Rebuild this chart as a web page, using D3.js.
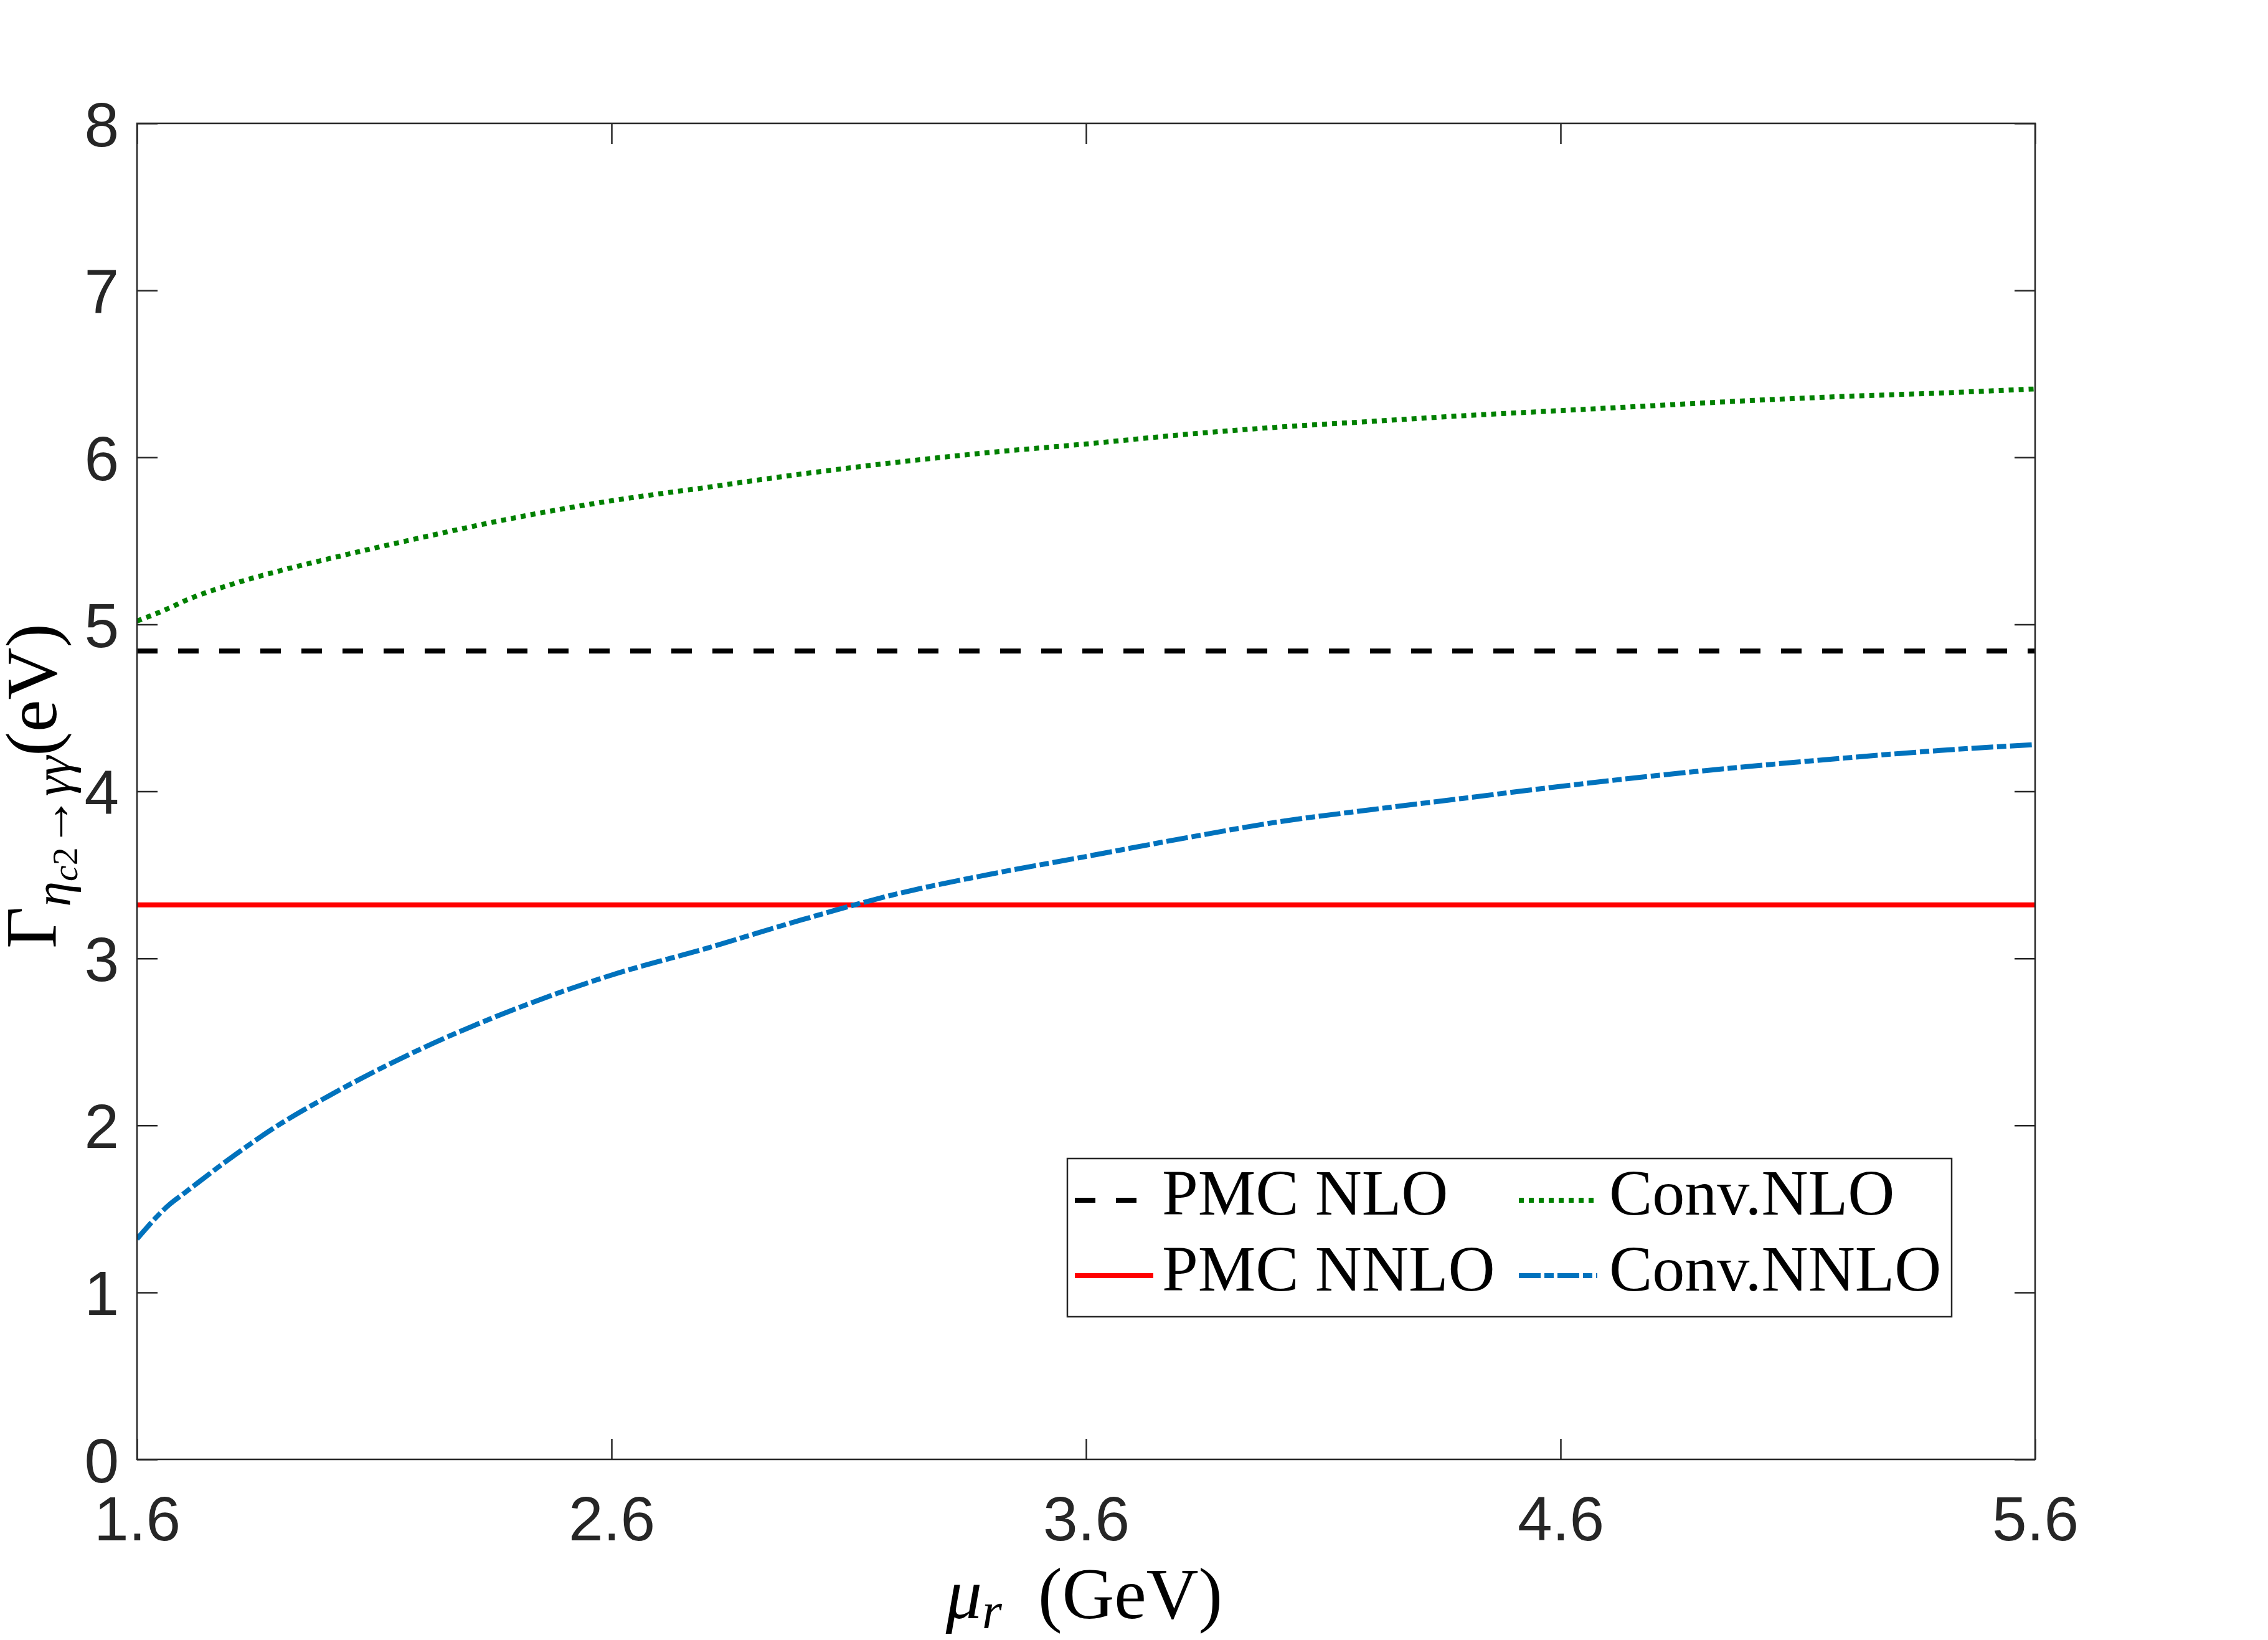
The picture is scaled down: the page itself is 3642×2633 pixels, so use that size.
<!DOCTYPE html>
<meta charset="utf-8">
<style>
  body { margin: 0; background: #fff; }
  .tick text { font-family: "Liberation Sans", Arial, sans-serif; fill: #262626; }
  .serif { font-family: "Liberation Serif", "Times New Roman", serif; fill: #000; }
</style>
<body>
<div id="chart"></div>
<script src="https://cdn.jsdelivr.net/npm/d3@7"></script>
<script>

// data
var mu = [1.6, 1.67, 1.7, 1.8, 1.9, 2.0, 2.2, 2.4, 2.6, 2.8, 3.0, 3.2, 3.4, 3.6, 3.8, 4.0, 4.2, 4.4, 4.6, 4.8, 5.0, 5.2, 5.4, 5.6];
var convNLO = [5.02, 5.10, 5.14, 5.24, 5.32, 5.39, 5.52, 5.64, 5.74, 5.82, 5.90, 5.97, 6.03, 6.08, 6.135, 6.18, 6.215, 6.25, 6.28, 6.31, 6.34, 6.365, 6.385, 6.41];
var convNNLO = [1.32, 1.53, 1.595, 1.81, 2.005, 2.17, 2.46, 2.70, 2.90, 3.06, 3.23, 3.385, 3.505, 3.61, 3.716, 3.815, 3.89, 3.96, 4.03, 4.094, 4.15, 4.20, 4.245, 4.28];
var muEnds = [1.6, 5.6];
var pmcNLO = [4.84, 4.84];
var pmcNNLO = [3.32, 3.32];
var xTicks = [1.6, 2.6, 3.6, 4.6, 5.6];
var yTicks = [0, 1, 2, 3, 4, 5, 6, 7, 8];

var W = 3642, H = 2633;
// plot box (note: "top" is a reserved window property, so use a prefix)
var pL = 220, pR = 3268, pT = 198, pB = 2343;

var svg = d3.select("#chart").append("svg")
    .attr("width", W)
    .attr("height", H)
    .style("background", "#fff");

var x = d3.scaleLinear().domain([1.6, 5.6]).range([pL, pR]);
var y = d3.scaleLinear().domain([0, 8]).range([pB, pT]);

svg.append("clipPath").attr("id", "plotclip")
  .append("rect")
    .attr("x", pL).attr("y", pT)
    .attr("width", pR - pL).attr("height", pB - pT);

// series
var series = [
  {name: "PMC NLO",   xs: muEnds, ys: pmcNLO,   color: "#000000", dash: "33,33"},
  {name: "PMC NNLO",  xs: muEnds, ys: pmcNNLO,  color: "#ff0000", dash: null},
  {name: "Conv.NLO",  xs: mu,     ys: convNLO,  color: "#008000", dash: "8,8"},
  {name: "Conv.NNLO", xs: mu,     ys: convNNLO, color: "#0072bd", dash: "35,6,15,6"}
];

var line = d3.line()
    .x(function(d) { return x(d[0]); })
    .y(function(d) { return y(d[1]); })
    .curve(d3.curveMonotoneX);

svg.append("g")
    .attr("clip-path", "url(#plotclip)")
  .selectAll("path")
  .data(series)
  .enter().append("path")
    .attr("d", function(s) { return line(d3.zip(s.xs, s.ys)); })
    .attr("fill", "none")
    .attr("stroke", function(s) { return s.color; })
    .attr("stroke-width", 8)
    .attr("stroke-dasharray", function(s) { return s.dash; });

// axes, ticks pointing inward on all four sides
var tk = 33;
var gx = svg.append("g")
    .attr("transform", "translate(0," + pB + ")")
    .call(d3.axisBottom(x).tickValues(xTicks).tickSize(-tk).tickPadding(59)
      .tickFormat(d3.format(".1f")));
gx.selectAll("text").style("font-size", "100px");

var gy = svg.append("g")
    .attr("transform", "translate(" + pL + ",0)")
    .call(d3.axisLeft(y).tickValues(yTicks).tickSize(-tk).tickPadding(29));
gy.selectAll("text").style("font-size", "100px").attr("dy", "0.36em");

svg.append("g")
    .attr("transform", "translate(0," + pT + ")")
    .call(d3.axisTop(x).tickValues(xTicks).tickSize(-tk).tickFormat(""));
svg.append("g")
    .attr("transform", "translate(" + pR + ",0)")
    .call(d3.axisRight(y).tickValues(yTicks).tickSize(-tk).tickFormat(""));

svg.selectAll(".domain").remove();
svg.selectAll(".tick line").attr("stroke", "#262626").attr("stroke-width", 2.5);

svg.append("rect")
    .attr("x", pL).attr("y", pT)
    .attr("width", pR - pL).attr("height", pB - pT)
    .attr("fill", "none")
    .attr("stroke", "#262626")
    .attr("stroke-width", 2.5);

// x label
var xl = svg.append("text")
    .attr("class", "serif")
    .attr("x", (pL + pR) / 2 - 3)
    .attr("y", 2598)
    .attr("text-anchor", "middle")
    .style("font-size", "116px");
xl.append("tspan").style("font-style", "italic").text("μ");
xl.append("tspan").style("font-style", "italic").style("font-size", "82px").attr("dy", 16).text("r");
xl.append("tspan").attr("dy", -16).text("\u2002(GeV)");

// y label
var yl = svg.append("text")
    .attr("class", "serif")
    .attr("transform", "translate(90,1262) rotate(-90)")
    .attr("text-anchor", "middle")
    .style("font-size", "116px");
yl.append("tspan").text("Γ");
yl.append("tspan").style("font-size", "82px").style("font-style", "italic").attr("dy", 22).text("η");
yl.append("tspan").style("font-size", "58px").style("font-style", "italic").attr("dy", 12).text("c");
yl.append("tspan").style("font-size", "58px").text("2");
yl.append("tspan").style("font-size", "82px").attr("dy", -12).text("→");
yl.append("tspan").style("font-size", "82px").style("font-style", "italic").text("γγ");
yl.append("tspan").attr("dy", -22).text("(eV)");

// legend
var lg = svg.append("g");
lg.append("rect")
    .attr("x", 1714).attr("y", 1860)
    .attr("width", 3134 - 1714).attr("height", 2114 - 1860)
    .attr("fill", "#fff")
    .attr("stroke", "#262626")
    .attr("stroke-width", 2.5);

var legPos = [
  {lx: 1726, tx: 1866, ly: 1927, ty: 1950},
  {lx: 1726, tx: 1866, ly: 2048, ty: 2072},
  {lx: 2439, tx: 2584, ly: 1927, ty: 1950},
  {lx: 2439, tx: 2584, ly: 2048, ty: 2072}
];

var item = lg.selectAll(".leg")
  .data(series)
  .enter().append("g")
    .attr("class", "leg");

item.append("line")
    .attr("x1", function(d, i) { return legPos[i].lx; })
    .attr("x2", function(d, i) { return legPos[i].lx + 126; })
    .attr("y1", function(d, i) { return legPos[i].ly; })
    .attr("y2", function(d, i) { return legPos[i].ly; })
    .attr("stroke", function(d) { return d.color; })
    .attr("stroke-width", 8)
    .attr("stroke-dasharray", function(d) { return d.dash; });

item.append("text")
    .attr("class", "serif")
    .attr("x", function(d, i) { return legPos[i].tx; })
    .attr("y", function(d, i) { return legPos[i].ty; })
    .style("font-size", "104px")
    .text(function(d) { return d.name; });

</script>
</body>
